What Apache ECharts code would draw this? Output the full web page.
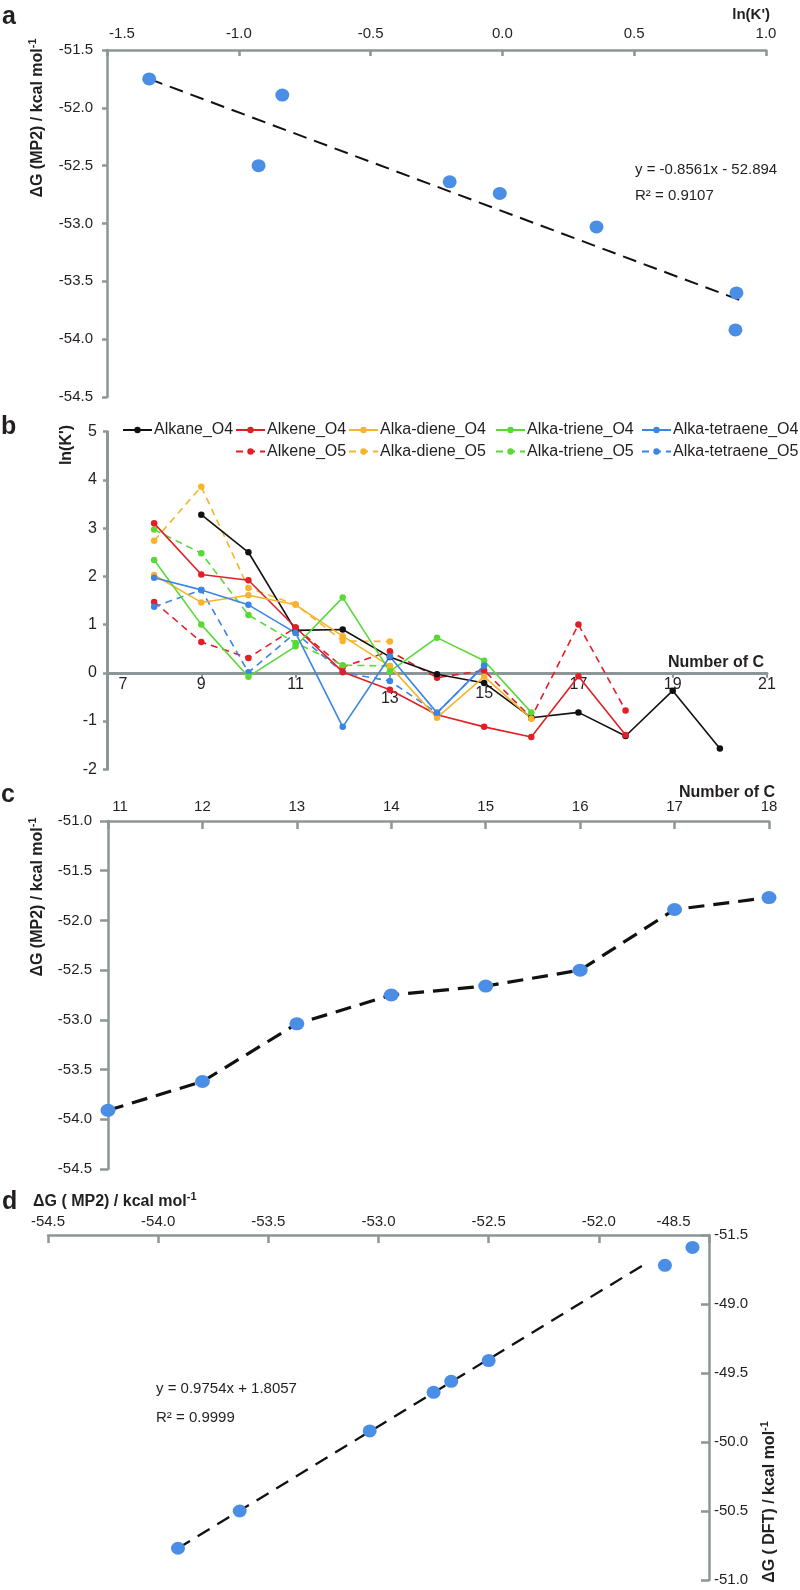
<!DOCTYPE html>
<html><head><meta charset="utf-8">
<script src="https://cdn.jsdelivr.net/npm/echarts@6/dist/echarts.min.js"></script>
<style>html,body{margin:0;padding:0;background:#fff}#c{width:800px;height:1590px}</style>
</head><body><div id="c"></div>
<script>
// ---------- Panel a ----------
const aLnK = [-1.34, -0.835, -0.925, -0.20, -0.01, 0.357, 0.888, 0.884];
const aDG  = [-51.75, -51.89, -52.50, -52.64, -52.74, -53.03, -53.60, -53.92];
const aTrendX = [-1.34, 0.91];
const aTrendY = [-51.75, -53.67];
const aEquation = ['y = -0.8561x - 52.894', 'R² = 0.9107'];

// ---------- Panel b ----------
const bCarbons = [8, 9, 10, 11, 12, 13, 14, 15, 16, 17, 18, 19, 20];
const bNames = ['Alkane_O4','Alkene_O4','Alka-diene_O4','Alka-triene_O4','Alka-tetraene_O4',
                'Alkene_O5','Alka-diene_O5','Alka-triene_O5','Alka-tetraene_O5'];
const alkaneO4      = [null, 3.28, 2.50, 0.88, 0.90, 0.33, -0.03, -0.21, -0.93, -0.82, -1.31, -0.37, -1.57];
const alkeneO4      = [3.10, 2.04, 1.92, 0.94, 0.02, -0.35, -0.87, -1.12, -1.33, -0.07, -1.29, null, null];
const alkadieneO4   = [2.03, 1.46, 1.61, 1.41, 0.76, 0.14, -0.93, -0.08, -0.95, null, null, null, null];
const alkatrieneO4  = [2.34, 1.00, -0.08, 0.55, 1.56, 0.03, 0.73, 0.25, -0.82, null, null, null, null];
const alkatetraeneO4= [1.97, 1.72, 1.41, 0.83, -1.12, 0.34, -0.83, 0.15, null, null, null, null, null];
const alkeneO5      = [1.47, 0.64, 0.31, 0.94, 0.12, 0.45, -0.10, 0.05, -0.93, 1.00, -0.78, null, null];
const alkadieneO5   = [2.74, 3.86, 1.76, 1.42, 0.66, 0.65, null, null, null, null, null, null, null];
const alkatrieneO5  = [2.97, 2.48, 1.20, 0.62, 0.16, 0.14, null, null, null, null, null, null, null];
const alkatetraeneO5= [1.37, 1.72, 0.01, 0.83, 0.01, -0.17, -0.83, 0.15, null, null, null, null, null];
const bValues = [alkaneO4, alkeneO4, alkadieneO4, alkatrieneO4, alkatetraeneO4,
                 alkeneO5, alkadieneO5, alkatrieneO5, alkatetraeneO5];

// ---------- Panel c ----------
const cCarbons = [11, 12, 13, 14, 15, 16, 17, 18];
const cDG = [-53.91, -53.62, -53.04, -52.75, -52.66, -52.50, -51.89, -51.77];

// ---------- Panel d ----------
const dMP2 = [-53.91, -53.63, -53.04, -52.75, -52.67, -52.50, -51.70, -51.575];
const dDFT = [-50.77, -50.50, -49.92, -49.64, -49.56, -49.41, -48.72, -48.59];
const dTrendX = [-53.91, -51.78];
const dTrendY = [-50.77, -48.70];
const dEquation = ['y = 0.9754x + 1.8057', 'R² = 0.9999'];
const dXLabelOverride = {'-51.5': '-48.5'};
const dYLabelOverride = {'-48.5': '-51.5'};

// ---------- styling ----------
const FONT = '"Liberation Sans", Arial, Helvetica, sans-serif';
const GRAY = '#8d9696';
const TXT = '#231f20';
const DOT = '#4b8ee6';
const bColors = ['#111111','#e41e26','#f6b42a','#58d936','#3b86e3',
                 '#e41e26','#f6b42a','#58d936','#3b86e3'];
const bDashed = [false,false,false,false,false,true,true,true,true];
const bLegendPos = [[122,422],[235,422],[348,422],[495,422],[641,422],
                    [235,443.5],[348,443.5],[495,443.5],[641,443.5]];

// panel b grid geometry (y axis from -2 to 5): x axis drawn at y = 0
const bTop = 431.7, bHeight = 337.6, bYMin = -2, bYMax = 5;
const bZeroOffset = -bHeight * (0 - bYMin) / (bYMax - bYMin);

function zip(xs, ys) { const o = []; xs.forEach((x, i) => { if (ys[i] !== null) o.push([x, ys[i]]); }); return o; }

function axisLineS(w) { return {show: true, onZero: false, lineStyle: {color: GRAY, width: w}}; }
function tickS(inside, len, w) { return {show: true, inside: inside, length: len, lineStyle: {color: GRAY, width: w}}; }
function labelS(margin, size, formatter, rich) {
  const o = {show: true, margin: margin, color: TXT, fontSize: size, fontFamily: FONT,
             showMinLabel: true, showMaxLabel: true, formatter: formatter};
  if (rich) o.rich = rich;
  return o;
}
function richTok(size, pad) { return {fontSize: size, fontFamily: FONT, color: TXT, padding: pad}; }

const titleRich = () => ({
  s: {fontSize: 11, fontWeight: 'bold', fontFamily: FONT, fill: TXT, color: TXT, lineHeight: 12, verticalAlign: 'top'}
});
function gText(x, y, text, o) {
  o = o || {};
  const style = {
    text: text,
    font: (o.bold ? 'bold ' : '') + (o.size || 15) + 'px ' + FONT,
    fill: o.color || TXT,
    align: o.align || 'left', textAlign: o.align || 'left',
    verticalAlign: o.va || 'middle', textVerticalAlign: o.va || 'middle'
  };
  if (o.rich) { style.rich = o.rich; style.lineHeight = o.lineHeight || 22; }
  return {type: 'text', x: x, y: y, rotation: o.rot || 0, silent: true, style: style};
}

const chart = echarts.init(document.getElementById('c'), null, {renderer: 'canvas'});

const series = [];
// a
series.push({type: 'line', xAxisIndex: 0, yAxisIndex: 0, data: zip(aTrendX, aTrendY), symbol: 'none',
  lineStyle: {color: '#111', width: 2, type: [14, 8]}, z: 2, silent: true});
series.push({type: 'scatter', xAxisIndex: 0, yAxisIndex: 0, data: zip(aLnK, aDG), symbol: 'circle',
  symbolSize: [14, 13], itemStyle: {color: DOT, opacity: 1}, z: 3, silent: true});
// b
bNames.forEach((n, i) => {
  series.push({name: n, type: 'line', xAxisIndex: 1, yAxisIndex: 1, data: zip(bCarbons, bValues[i]),
    symbol: 'circle', symbolSize: 6.5, showSymbol: true,
    itemStyle: {color: bColors[i]},
    lineStyle: {color: bColors[i], width: 1.6, type: bDashed[i] ? [7, 5] : 'solid'},
    z: bDashed[i] ? 2 : 3, silent: true});
});
// c
series.push({type: 'line', xAxisIndex: 2, yAxisIndex: 2, data: zip(cCarbons, cDG), symbol: 'circle',
  symbolSize: [15, 13], itemStyle: {color: DOT}, lineStyle: {color: '#111', width: 3.2, type: [16, 9]}, silent: true});
// d
series.push({type: 'line', xAxisIndex: 3, yAxisIndex: 3, data: zip(dTrendX, dTrendY), symbol: 'none',
  lineStyle: {color: '#111', width: 2.3, type: [14, 9]}, z: 2, silent: true});
series.push({type: 'scatter', xAxisIndex: 3, yAxisIndex: 3, data: zip(dMP2, dDFT), symbol: 'circle',
  symbolSize: [14, 13], itemStyle: {color: DOT, opacity: 1}, z: 3, silent: true});

const legends = bNames.map((n, i) => ({
  show: true, data: [n], left: bLegendPos[i][0], top: bLegendPos[i][1], padding: 0,
  itemWidth: 29, itemHeight: 8, itemGap: 0, selectedMode: false,
  textStyle: {fontSize: 16, color: TXT, fontFamily: FONT, padding: [0, 0, 0, -3]}
}));

const option = {
  animation: false,
  backgroundColor: '#ffffff',
  legend: legends,
  grid: [
    {left: 107, top: 50, width: 659, height: 347},
    {left: 107, top: bTop, width: 660, height: bHeight},
    {left: 108, top: 821, width: 661, height: 348},
    {left: 48, top: 1235, width: 661, height: 345}
  ],
  xAxis: [
    {gridIndex: 0, type: 'value', position: 'top', min: -1.5, max: 1.0, interval: 0.5,
     axisLine: axisLineS(2.5), axisTick: tickS(true, 6, 2.5), splitLine: {show: false},
     axisLabel: labelS(9, 15, v => v === -1.5 ? '{f|-1.5}' : v.toFixed(1), {f: richTok(15, [0, 0, 0, 30])})},
    {gridIndex: 1, type: 'value', position: 'bottom', offset: bZeroOffset, min: 7, max: 21, interval: 2,
     axisLine: {show: true, onZero: false, lineStyle: {color: GRAY, width: 3}},
     axisTick: tickS(false, 5, 2), splitLine: {show: false},
     axisLabel: labelS(4, 16, v => v === 7 ? '{f|7}' : v === 13 ? '{l|13}' : v === 15 ? '{m|15}' : String(v),
       {f: richTok(16, [0, 0, 0, 32]), l: richTok(16, [14, 0, 0, 0]), m: richTok(16, [9, 0, 0, 0])})},
    {gridIndex: 2, type: 'value', position: 'top', min: 11, max: 18, interval: 1,
     axisLine: axisLineS(2.5), axisTick: tickS(true, 8, 2.5), splitLine: {show: false},
     axisLabel: labelS(7, 15, v => v === 11 ? '{f|11}' : String(v), {f: richTok(15, [0, 0, 0, 24])})},
    {gridIndex: 3, type: 'value', position: 'top', min: -54.5, max: -51.5, interval: 0.5,
     axisLine: axisLineS(2.5), axisTick: tickS(true, 8, 2.5), splitLine: {show: false},
     axisLabel: labelS(6, 15, v => {
       const k = v.toFixed(1);
       return dXLabelOverride[k] ? '{f|' + dXLabelOverride[k] + '}' : k;
     }, {f: richTok(15, [0, 71, 0, 0])})}
  ],
  yAxis: [
    {gridIndex: 0, type: 'value', min: -54.5, max: -51.5, interval: 0.5,
     axisLine: axisLineS(2.5), axisTick: tickS(false, 5, 2.5), splitLine: {show: false},
     axisLabel: labelS(14, 15, v => v.toFixed(1))},
    {gridIndex: 1, type: 'value', min: bYMin, max: bYMax, interval: 1,
     axisLine: axisLineS(3), axisTick: tickS(false, 4, 2.5), splitLine: {show: false},
     axisLabel: labelS(10, 16, v => String(v))},
    {gridIndex: 2, type: 'value', min: -54.5, max: -51.0, interval: 0.5,
     axisLine: axisLineS(2.5), axisTick: tickS(false, 8, 2.5), splitLine: {show: false},
     axisLabel: labelS(16, 15, v => v.toFixed(1))},
    {gridIndex: 3, type: 'value', position: 'right', min: -51.0, max: -48.5, interval: 0.5,
     axisLine: axisLineS(2.5), axisTick: tickS(true, 8, 2.5), splitLine: {show: false},
     axisLabel: labelS(5, 15, v => { const k = v.toFixed(1); return dYLabelOverride[k] || k; })}
  ],
  series: series,
  graphic: {elements: [
    // panel letters
    gText(2, 17, 'a', {bold: true, size: 25}),
    gText(1, 427, 'b', {bold: true, size: 25}),
    gText(1, 795, 'c', {bold: true, size: 25}),
    gText(2, 1202, 'd', {bold: true, size: 25}),
    // panel a
    gText(770, 15, "ln(K')", {bold: true, size: 15, align: 'right'}),
    gText(38, 118, 'ΔG (MP2) / kcal mol{s|-1}', {bold: true, size: 16, align: 'center', rot: Math.PI / 2, rich: titleRich()}),
    gText(635, 170, aEquation[0], {size: 15}),
    gText(635, 196, aEquation[1], {size: 15}),
    // panel b
    gText(67, 445, "ln(K')", {bold: true, size: 16, align: 'center', rot: Math.PI / 2}),
    gText(668, 663, 'Number of C', {bold: true, size: 16}),
    // panel c
    gText(775, 793, 'Number of C', {bold: true, size: 16, align: 'right'}),
    gText(38, 897, 'ΔG (MP2) / kcal mol{s|-1}', {bold: true, size: 16, align: 'center', rot: Math.PI / 2, rich: titleRich()}),
    // panel d
    gText(33, 1202, 'ΔG ( MP2) / kcal mol{s|-1}', {bold: true, size: 16, rich: titleRich()}),
    gText(770, 1502, 'ΔG ( DFT) / kcal mol{s|-1}', {bold: true, size: 16, align: 'center', rot: Math.PI / 2, rich: titleRich()}),
    gText(156, 1389, dEquation[0], {size: 15}),
    gText(156, 1418, dEquation[1], {size: 15})
  ]}
};
chart.setOption(option);
</script></body></html>
